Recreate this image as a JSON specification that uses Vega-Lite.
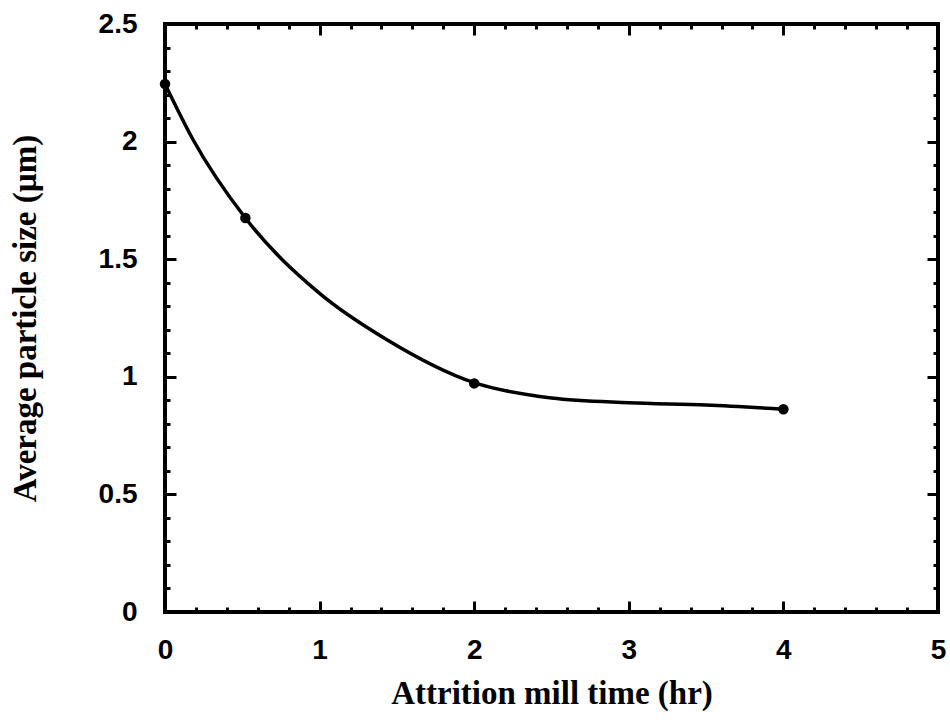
{
  "$schema": "https://vega.github.io/schema/vega-lite/v6.json",
  "width": 773,
  "height": 588,
  "autosize": "none",
  "padding": {"left": 165, "top": 24, "right": 12, "bottom": 115},
  "background": "white",
  "config": {
    "view": {"stroke": "black", "strokeWidth": 4},
    "axis": {
      "grid": false,
      "domain": false,
      "tickColor": "black",
      "tickWidth": 3,
      "labelColor": "black",
      "labelFont": "Liberation Sans",
      "labelFontWeight": "bold",
      "labelFontSize": 28,
      "labelFlush": false,
      "labelOverlap": false,
      "titleColor": "black",
      "titleFont": "Liberation Serif",
      "titleFontWeight": "bold",
      "titleFontSize": 33
    }
  },
  "datasets": {
    "curve": [
      {"t": 0, "s": 2.245},
      {"t": 0.18, "s": 2.01},
      {"t": 0.52, "s": 1.675},
      {"t": 1.0, "s": 1.355},
      {"t": 1.43, "s": 1.16},
      {"t": 2.0, "s": 0.975},
      {"t": 2.5, "s": 0.91},
      {"t": 3.0, "s": 0.89},
      {"t": 3.5, "s": 0.88},
      {"t": 4.0, "s": 0.862}
    ],
    "measured": [
      {"t": 0, "s": 2.245},
      {"t": 0.52, "s": 1.675},
      {"t": 2, "s": 0.972},
      {"t": 4, "s": 0.862}
    ]
  },
  "layer": [
    {
      "data": {"name": "curve"},
      "mark": {"type": "line", "color": "black", "strokeWidth": 3.5, "interpolate": "monotone"},
      "encoding": {
        "x": {
          "field": "t", "type": "quantitative",
          "scale": {"domain": [0, 5], "nice": false},
          "axis": {
            "orient": "bottom",
            "values": [0,0.2,0.4,0.6,0.8,1,1.2,1.4,1.6,1.8,2,2.2,2.4,2.6,2.8,3,3.2,3.4,3.6,3.8,4,4.2,4.4,4.6,4.8,5],
            "tickSize": {"condition": {"test": "datum.value % 1 === 0", "value": -11}, "value": -5},
            "labelExpr": "datum.value % 1 === 0 ? format(datum.value, '~g') : ''",
            "labelPadding": 35,
            "title": "Attrition mill time (hr)",
            "titlePadding": 7
          }
        },
        "y": {
          "field": "s", "type": "quantitative",
          "scale": {"domain": [0, 2.5], "nice": false},
          "axis": {
            "orient": "left",
            "values": [0,0.1,0.2,0.3,0.4,0.5,0.6,0.7,0.8,0.9,1,1.1,1.2,1.3,1.4,1.5,1.6,1.7,1.8,1.9,2,2.1,2.2,2.3,2.4,2.5],
            "tickSize": {"condition": {"test": "abs(datum.value*2 - round(datum.value*2)) < 0.001", "value": -11}, "value": -5},
            "labelExpr": "abs(datum.value*2 - round(datum.value*2)) < 0.001 ? format(datum.value, '~g') : ''",
            "labelPadding": 39,
            "title": "Average particle size (µm)",
            "titlePadding": 56
          }
        }
      }
    },
    {
      "data": {"name": "measured"},
      "mark": {"type": "point", "filled": true, "color": "black", "size": 110, "opacity": 1},
      "encoding": {
        "x": {
          "field": "t", "type": "quantitative",
          "axis": {
            "orient": "top",
            "values": [0,0.2,0.4,0.6,0.8,1,1.2,1.4,1.6,1.8,2,2.2,2.4,2.6,2.8,3,3.2,3.4,3.6,3.8,4,4.2,4.4,4.6,4.8,5],
            "tickSize": {"condition": {"test": "datum.value % 1 === 0", "value": -11}, "value": -5},
            "labels": false,
            "title": null
          }
        },
        "y": {
          "field": "s", "type": "quantitative",
          "axis": {
            "orient": "right",
            "values": [0,0.1,0.2,0.3,0.4,0.5,0.6,0.7,0.8,0.9,1,1.1,1.2,1.3,1.4,1.5,1.6,1.7,1.8,1.9,2,2.1,2.2,2.3,2.4,2.5],
            "tickSize": {"condition": {"test": "abs(datum.value*2 - round(datum.value*2)) < 0.001", "value": -11}, "value": -5},
            "labels": false,
            "title": null
          }
        }
      }
    }
  ]
}
